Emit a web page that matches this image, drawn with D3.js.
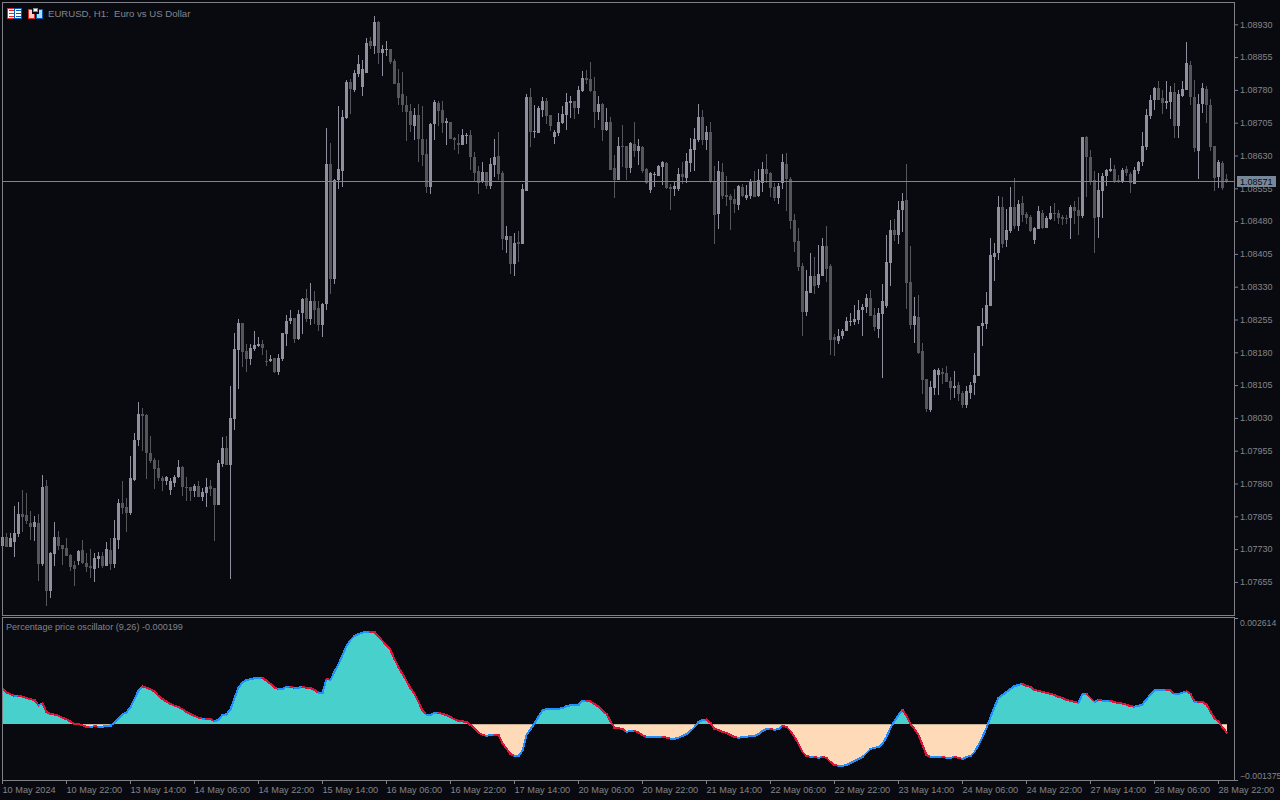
<!DOCTYPE html>
<html>
<head>
<meta charset="utf-8">
<script src="https://cdn.jsdelivr.net/npm/d3@7"></script>
<style>
  html, body { margin: 0; padding: 0; background: #090a0f; }
  svg { display: block; }
  text { font-family: "Liberation Sans", sans-serif; font-size: 9px; fill: #84848c; }
</style>
</head>
<body>
<svg id="canvas" width="1280" height="800"></svg>
<script>
// prices are points above 1.07000, one entry per H1 bar
var priceBase = 1.07;
var opens = [
737,758,735,746,765,810,808,790,781,790,696,875,634,719,758,740,733,717,694,703,
728,698,692,685,708,714,692,728,696,751,836,826,813,888,980,1039,1037,950,934,916,
893,886,865,881,895,918,872,872,863,875,849,859,875,870,831,925,961,923,1028,1186,
1247,1183,1165,1188,1195,1199,1160,1160,1167,1135,1165,1222,1252,1259,1211,1270,1304,1256,1298,1282,
1243,1291,1611,1348,1574,1595,1716,1798,1780,1817,1787,1819,1892,1881,1936,1865,1872,1874,1846,1796,
1771,1746,1732,1698,1723,1668,1634,1558,1702,1750,1734,1705,1707,1670,1659,1654,1675,1677,1627,1595,
1570,1593,1561,1609,1629,1590,1437,1446,1382,1433,1428,1549,1764,1684,1682,1734,1755,1723,1673,1682,
1705,1723,1750,1755,1739,1778,1808,1805,1778,1730,1748,1689,1707,1602,1574,1652,1652,1602,1657,1641,
1650,1600,1551,1586,1583,1604,1613,1558,1554,1554,1588,1579,1613,1643,1666,1718,1666,1684,1572,1497,
1593,1540,1538,1531,1517,1558,1533,1538,1572,1538,1567,1600,1590,1558,1533,1567,1611,1577,1483,1435,
1378,1272,1316,1355,1334,1355,1423,1378,1215,1206,1218,1229,1250,1250,1254,1277,1284,1304,1266,1234,
1268,1286,1385,1460,1449,1506,1529,1341,1243,1261,1183,1119,1048,1099,1128,1135,1133,1115,1099,1106,
1087,1060,1087,1110,1126,1240,1245,1286,1398,1407,1513,1437,1458,1513,1469,1522,1497,1490,1437,1462,
1499,1465,1485,1499,1499,1490,1487,1487,1513,1506,1492,1673,1627,1574,1490,1549,1583,1595,1600,1574,
1570,1600,1588,1565,1595,1615,1650,1721,1757,1785,1762,1750,1753,1776,1698,1766,1780,1837,1764,1641,
1748,1782,1746,1652,1581,1613,1577];
var highs = [
758,767,767,829,838,865,859,817,806,810,900,888,724,792,772,740,756,719,703,728,
751,721,730,721,724,724,746,756,797,845,886,847,943,996,1067,1053,1039,989,939,934,
897,897,893,900,934,920,895,872,879,886,870,893,888,870,934,987,989,1103,1224,1256,
1247,1199,1199,1229,1215,1208,1186,1174,1167,1176,1224,1266,1277,1259,1277,1304,1325,1339,1320,1298,
1293,1693,1659,1577,1744,1734,1803,1805,1826,1860,1849,1899,1901,1949,1938,1883,1892,1874,1851,1828,
1821,1766,1748,1739,1748,1744,1668,1705,1757,1755,1755,1716,1707,1673,1680,1691,1682,1689,1638,1606,
1615,1593,1625,1668,1684,1595,1469,1446,1453,1458,1565,1771,1785,1746,1744,1764,1762,1723,1689,1728,
1744,1773,1766,1755,1789,1824,1826,1844,1810,1766,1750,1739,1718,1631,1673,1700,1652,1661,1707,1668,
1652,1602,1593,1593,1609,1618,1615,1565,1570,1602,1615,1636,1670,1693,1748,1734,1698,1707,1606,1618,
1613,1583,1542,1554,1563,1565,1563,1577,1595,1600,1615,1634,1593,1567,1567,1634,1636,1581,1497,1465,
1385,1369,1407,1398,1426,1442,1469,1382,1222,1234,1234,1261,1270,1288,1300,1291,1314,1323,1282,1282,
1336,1449,1483,1485,1526,1545,1611,1423,1307,1311,1202,1119,1115,1142,1144,1144,1149,1124,1138,1112,
1092,1103,1112,1179,1240,1282,1318,1442,1430,1538,1535,1508,1558,1579,1529,1538,1501,1494,1467,1515,
1506,1492,1515,1522,1506,1494,1494,1517,1526,1535,1673,1675,1643,1595,1590,1590,1600,1625,1609,1586,
1602,1606,1593,1604,1618,1684,1737,1769,1787,1801,1780,1801,1789,1796,1780,1801,1890,1846,1803,1771,
1796,1789,1760,1652,1620,1618,1588];
var lows = [
737,735,735,712,758,769,788,751,749,657,692,600,618,692,728,694,714,680,646,694,
696,678,664,655,687,687,692,682,687,730,810,769,808,886,966,955,891,927,868,886,
863,877,854,872,893,852,840,840,849,849,840,826,852,749,831,918,923,662,1003,1096,
1147,1135,1151,1183,1192,1174,1149,1158,1133,1128,1160,1195,1245,1202,1208,1222,1250,1243,1245,1229,
1215,1277,1314,1336,1554,1558,1714,1725,1776,1810,1766,1819,1874,1862,1840,1812,1858,1840,1794,1746,
1730,1664,1684,1666,1615,1606,1545,1542,1666,1698,1682,1654,1668,1643,1634,1654,1657,1597,1570,1542,
1567,1554,1554,1581,1574,1414,1407,1359,1355,1387,1428,1549,1650,1670,1682,1718,1702,1686,1657,1675,
1702,1689,1716,1714,1725,1776,1794,1776,1693,1712,1664,1686,1597,1533,1574,1604,1574,1590,1627,1609,
1590,1565,1545,1558,1583,1563,1554,1506,1538,1549,1565,1567,1593,1595,1661,1654,1643,1567,1428,1462,
1531,1515,1460,1499,1506,1535,1529,1531,1535,1535,1547,1567,1535,1526,1519,1554,1503,1462,1410,1366,
1218,1263,1316,1314,1327,1355,1341,1174,1172,1199,1211,1229,1240,1243,1245,1218,1270,1263,1229,1213,
1121,1282,1332,1435,1428,1455,1279,1234,1202,1176,1085,1044,1044,1083,1083,1108,1112,1071,1076,1069,
1053,1053,1074,1083,1126,1195,1234,1286,1343,1391,1419,1421,1453,1462,1458,1478,1474,1455,1428,1462,
1462,1465,1483,1481,1474,1471,1474,1439,1474,1449,1487,1535,1563,1407,1442,1487,1561,1593,1567,1567,
1567,1583,1545,1565,1588,1606,1643,1714,1734,1757,1725,1737,1714,1670,1670,1764,1780,1746,1638,1577,
1728,1705,1641,1549,1556,1551,1567];
var closes = [
758,735,756,767,810,804,794,781,792,696,872,634,721,758,737,730,714,689,685,726,
698,689,687,710,714,692,730,696,756,836,824,813,893,980,1039,1035,950,932,913,893,
886,895,886,895,918,872,870,863,875,849,861,872,868,831,927,961,923,1030,1188,1247,
1181,1165,1190,1197,1199,1190,1158,1165,1135,1167,1224,1252,1259,1211,1268,1302,1256,1298,1277,1243,
1291,1611,1348,1574,1600,1718,1798,1782,1819,1840,1828,1888,1881,1936,1865,1874,1874,1844,1794,1762,
1746,1730,1700,1723,1668,1631,1558,1702,1753,1732,1705,1709,1668,1666,1654,1677,1677,1627,1590,1567,
1593,1561,1611,1627,1588,1439,1446,1382,1430,1428,1554,1764,1684,1686,1739,1755,1721,1698,1684,1707,
1725,1753,1755,1739,1780,1808,1803,1778,1730,1748,1689,1707,1597,1574,1652,1650,1602,1659,1641,1652,
1595,1567,1590,1588,1606,1615,1556,1554,1561,1588,1581,1618,1645,1668,1718,1666,1684,1570,1494,1595,
1538,1535,1529,1519,1561,1538,1540,1572,1535,1574,1600,1588,1556,1533,1561,1615,1577,1481,1433,1375,
1272,1320,1355,1332,1359,1423,1371,1208,1208,1218,1229,1252,1252,1256,1277,1284,1304,1263,1238,1270,
1298,1387,1460,1449,1506,1526,1339,1243,1263,1179,1117,1051,1101,1140,1140,1131,1112,1099,1103,1085,
1060,1092,1106,1128,1240,1247,1288,1403,1407,1513,1428,1460,1513,1469,1519,1494,1487,1458,1465,1503,
1465,1487,1499,1497,1487,1485,1485,1513,1503,1492,1673,1627,1570,1487,1551,1583,1597,1600,1570,1570,
1597,1590,1567,1597,1615,1652,1723,1757,1785,1757,1750,1755,1776,1698,1771,1782,1842,1764,1648,1748,
1785,1746,1650,1579,1615,1556,1571];

// oscillator, in millionths
var oscValues = [
867,785,736,694,694,677,645,613,596,465,515,300,251,234,209,160,121,62,12,5,
-27,-62,-69,-52,-62,-62,-44,-37,37,145,244,293,416,620,825,923,899,859,800,694,
620,554,497,455,423,367,300,251,202,160,135,135,128,71,111,226,244,367,638,899,
1032,1088,1105,1130,1137,1137,1071,990,899,867,874,916,916,891,899,916,891,884,842,776,
776,1113,1088,1293,1482,1696,1925,2073,2171,2221,2253,2270,2277,2270,2154,2048,1943,1827,1598,1401,
1236,1064,884,744,547,332,226,234,276,276,251,226,177,121,79,71,47,-20,-111,-209,
-259,-291,-266,-259,-273,-470,-603,-734,-783,-783,-652,-266,-126,22,185,332,374,374,382,382,
391,441,465,480,480,571,579,554,497,431,332,251,71,-86,-101,-118,-192,-167,-160,-209,
-273,-315,-315,-315,-315,-315,-332,-357,-357,-332,-291,-241,-167,-69,54,103,116,30,-118,-143,
-192,-217,-266,-315,-340,-315,-315,-291,-291,-241,-167,-118,-118,-143,-118,-44,-69,-167,-315,-487,
-684,-783,-807,-807,-832,-807,-832,-931,-1004,-1029,-1029,-1004,-955,-906,-857,-807,-709,-611,-586,-561,
-487,-315,-94,79,226,350,202,5,-118,-266,-512,-758,-807,-807,-807,-807,-832,-832,-807,-832,
-857,-807,-783,-684,-512,-315,-94,177,423,645,719,793,867,940,965,990,940,916,842,817,
793,768,744,719,670,645,596,571,547,522,744,744,645,547,596,579,579,579,539,522,
505,480,441,431,448,490,613,726,825,842,849,849,825,744,744,776,810,744,554,554,
547,480,308,145,62,-76,-199];

var priceTicks = [1.0893,1.08855,1.0878,1.08705,1.0863,1.08555,1.0848,1.08405,1.0833,1.08255,
  1.0818,1.08105,1.0803,1.07955,1.0788,1.07805,1.0773,1.07655];
var lastPrice = 1.08571;
var oscTicks = [0.002614, -0.001375];
var timeLabels = ['10 May 2024','10 May 22:00','13 May 14:00','14 May 06:00','14 May 22:00',
  '15 May 14:00','16 May 06:00','16 May 22:00','17 May 14:00','20 May 06:00','20 May 22:00',
  '21 May 14:00','22 May 06:00','22 May 22:00','23 May 14:00','24 May 06:00','24 May 22:00',
  '27 May 14:00','28 May 06:00','28 May 22:00'];
var barsPerLabel = 16;

var colBg = '#090a0f', colFrame = '#808088', colBull = '#8f8f9d', colBear = '#55555c',
    colLast = '#778899', colUp = '#1e90ff', colDown = '#dc143c', colPos = '#48d1cc', colNeg = '#ffdab9';

var svg = d3.select('#canvas');
var toPrice = function(p) { return priceBase + p / 100000; };
var bars = d3.range(opens.length);

// ************************************************************************************** //
// Scales

var xScale = d3.scaleLinear().domain([0, bars.length - 1]).range([2.5, 2.5 + 4 * (bars.length - 1)]);
var yPrice = d3.scaleLinear().domain([1.0893, 1.07655]).range([24.3, 581.9]);
var yOsc = d3.scaleLinear().domain(oscTicks).range([618, 780]);
var oscLevel = function(i) { return yOsc(oscValues[i] / 1000000); };

// ************************************************************************************** //
// Candles

var candles = svg.append('g').attr('shape-rendering', 'crispEdges');
var isBull = function(i) { return closes[i] >= opens[i]; };
var candleColor = function(i) { return isBull(i) ? colBull : colBear; };

candles.selectAll('.wick').data(bars).enter().append('rect').attr('class', 'wick')
  .attr('x', function(i) { return xScale(i) - 0.5; })
  .attr('width', 1)
  .attr('y', function(i) { return Math.round(yPrice(toPrice(highs[i]))); })
  .attr('height', function(i) { return Math.max(1, Math.round(yPrice(toPrice(lows[i]))) - Math.round(yPrice(toPrice(highs[i])))); })
  .attr('fill', candleColor);

candles.selectAll('.body').data(bars).enter().append('rect').attr('class', 'body')
  .attr('x', function(i) { return xScale(i) - 1.5; })
  .attr('width', 3)
  .attr('y', function(i) { return Math.round(yPrice(toPrice(Math.max(opens[i], closes[i])))); })
  .attr('height', function(i) {
    return Math.max(1, Math.round(yPrice(toPrice(Math.min(opens[i], closes[i])))) - Math.round(yPrice(toPrice(Math.max(opens[i], closes[i])))));
  })
  .attr('fill', candleColor);

// last price line
svg.append('line')
  .attr('x1', 3).attr('x2', 1234)
  .attr('y1', Math.floor(yPrice(lastPrice)) + 0.5).attr('y2', Math.floor(yPrice(lastPrice)) + 0.5)
  .attr('stroke', colLast);

// ************************************************************************************** //
// Oscillator

var defs = svg.append('defs');
defs.append('clipPath').attr('id', 'clip_pos').append('rect')
  .attr('x', 0).attr('y', 618).attr('width', 1234).attr('height', yOsc(0) - 618);
defs.append('clipPath').attr('id', 'clip_neg').append('rect')
  .attr('x', 0).attr('y', yOsc(0)).attr('width', 1234).attr('height', 780 - yOsc(0));

var areaGen = d3.area().x(function(i) { return xScale(i); }).y0(yOsc(0)).y1(oscLevel);
var lineGen = d3.line().x(function(i) { return xScale(i); }).y(oscLevel);

var osc = svg.append('g').attr('shape-rendering', 'crispEdges');
osc.append('path').attr('d', areaGen(bars)).attr('fill', colPos).attr('clip-path', 'url(#clip_pos)');
osc.append('path').attr('d', areaGen(bars)).attr('fill', colNeg).attr('clip-path', 'url(#clip_neg)');

osc.selectAll('.seg').data(bars.slice(1)).enter().append('path').attr('class', 'seg')
  .attr('d', function(i) { return lineGen([i - 1, i]); })
  .attr('fill', 'none')
  .attr('stroke-width', 2)
  .attr('stroke-linecap', 'square')
  .attr('stroke', function(i) { return oscValues[i] < oscValues[i - 1] ? colDown : colUp; });

// ************************************************************************************** //
// Frames and axes

svg.append('rect').attr('x', 2.5).attr('y', 2.5).attr('width', 1232).attr('height', 613)
  .attr('fill', 'none').attr('stroke', colFrame);
svg.append('rect').attr('x', 2.5).attr('y', 617.5).attr('width', 1232).attr('height', 163)
  .attr('fill', 'none').attr('stroke', colFrame);

var priceAxis = svg.append('g').attr('transform', 'translate(1234,0)')
  .call(d3.axisRight(yPrice).tickValues(priceTicks).tickSize(4).tickPadding(2).tickFormat(d3.format('.5f')));
var oscAxis = svg.append('g').attr('transform', 'translate(1234,0)')
  .call(d3.axisRight(yOsc).tickValues(oscTicks).tickSize(4).tickPadding(2).tickFormat(d3.format('.6f')));
oscAxis.selectAll('text').attr('dy', function(d) { return d > 0 ? 7.5 : -1.5; });

var timeAxis = svg.append('g').attr('transform', 'translate(-0.5,780)')
  .call(d3.axisBottom(xScale)
    .tickValues(timeLabels.map(function(d, k) { return k * barsPerLabel; }))
    .tickSize(4).tickPadding(2)
    .tickFormat(function(d) { return timeLabels[d / barsPerLabel]; }));
timeAxis.selectAll('text').attr('text-anchor', 'start');

[[priceAxis, '9px'], [oscAxis, '8.7px'], [timeAxis, '9.2px']].forEach(function(ax) {
  ax[0].select('.domain').remove();
  ax[0].selectAll('line').attr('stroke', colFrame);
  ax[0].selectAll('text').attr('fill', '#84848c').style('font-family', '"Liberation Sans", sans-serif').style('font-size', ax[1]);
});

// last price tag, sits over the 1.08555 label as on the terminal
svg.append('rect').attr('x', 1237).attr('y', 176).attr('width', 39).attr('height', 11).attr('fill', colLast);
svg.append('text').attr('x', 1240).attr('y', 185).style('fill', '#090a0f').text(d3.format('.5f')(lastPrice));

// ************************************************************************************** //
// Titles and icons

svg.append('text').attr('x', 48).attr('y', 17).style('font-size', '9.6px').style('white-space', 'pre')
  .text('EURUSD, H1:  Euro vs US Dollar');
svg.append('text').attr('x', 6).attr('y', 630).style('font-size', '9.1px')
  .text('Percentage price oscillator (9,26) -0.000199');

var icons = svg.append('g').attr('shape-rendering', 'crispEdges');
function box(x, y, w, h, fill, stroke) {
  icons.append('rect').attr('x', x + 0.5).attr('y', y + 0.5).attr('width', w - 1).attr('height', h - 1)
    .attr('fill', fill).attr('stroke', stroke);
}
box(7, 8, 8, 11, '#ffffff', '#e02a2a');
box(14, 8, 8, 11, '#ffffff', '#0a5ab4');
[10, 13, 16].forEach(function(y) {
  icons.append('rect').attr('x', 9).attr('y', y).attr('width', 5).attr('height', 1).attr('fill', '#e02a2a');
  icons.append('rect').attr('x', 16).attr('y', y).attr('width', 5).attr('height', 1).attr('fill', '#0a5ab4');
});
box(28, 9, 7, 10, '#ffd2c8', '#e02a2a');
box(36, 9, 7, 10, '#a8dcff', '#0a5ab4');
icons.append('rect').attr('x', 32).attr('y', 8).attr('width', 7).attr('height', 6).attr('fill', colBg);
box(33, 8, 5, 4, '#ffffff', '#8a8a8a');
</script>
</body>
</html>
